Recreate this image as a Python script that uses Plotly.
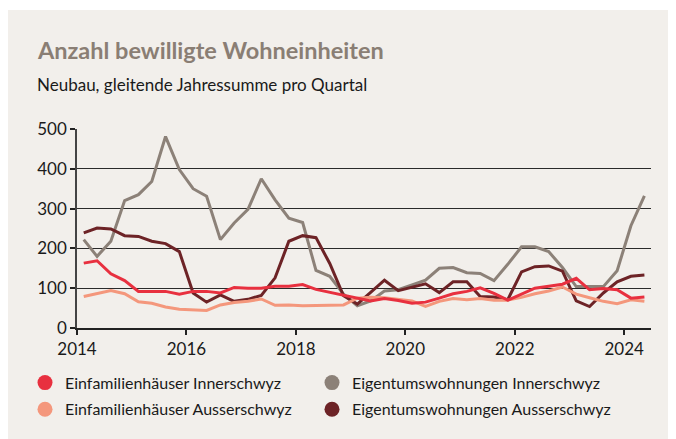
import plotly.graph_objects as go

# Quarterly data points (mid-quarter), 2014 Q1 .. 2024 Q2
quarters = [f"{y}-{m:02d}-15" for y in range(2014, 2025) for m in (2, 5, 8, 11)][:42]

efh_inner = [163, 169, 136, 119, 92, 92, 92, 85, 92, 92,
             88, 102, 100, 100, 105, 105, 109, 97, 90, 83,
             75, 68, 74, 69, 62, 65, 75, 86, 92, 101,
             87, 70, 85, 100, 105, 110, 125, 96, 99, 96,
             75, 78]
efh_ausser = [79, 86, 94, 86, 66, 62, 53, 47, 45, 44,
              58, 64, 67, 73, 57, 58, 56, 57, 57, 58,
              75, 77, 76, 72, 68, 54, 67, 74, 71, 74,
              70, 70, 77, 86, 93, 103, 85, 76, 67, 61,
              71, 67]
etw_inner = [222, 180, 218, 320, 335, 368, 481, 398, 350, 331,
             222, 264, 298, 375, 322, 276, 265, 145, 130, 85,
             56, 68, 93, 96, 108, 120, 150, 152, 139, 137,
             119, 160, 204, 204, 192, 152, 104, 104, 104, 144,
             257, 332]
etw_ausser = [239, 251, 249, 232, 230, 218, 212, 192, 88, 65,
              83, 67, 72, 82, 126, 218, 232, 227, 162, 81,
              60, 90, 120, 94, 103, 111, 89, 116, 116, 79,
              78, 71, 141, 154, 156, 143, 68, 54, 88, 116,
              130, 133]

names = ["Einfamilienhäuser Innerschwyz", "Eigentumswohnungen Innerschwyz",
         "Einfamilienhäuser Ausserschwyz", "Eigentumswohnungen Ausserschwyz"]
colors = {"Einfamilienhäuser Innerschwyz": "#e8303f",
          "Eigentumswohnungen Innerschwyz": "#8c8178",
          "Einfamilienhäuser Ausserschwyz": "#f4977c",
          "Eigentumswohnungen Ausserschwyz": "#6d2326"}
series = {"Einfamilienhäuser Innerschwyz": efh_inner,
          "Eigentumswohnungen Innerschwyz": etw_inner,
          "Einfamilienhäuser Ausserschwyz": efh_ausser,
          "Eigentumswohnungen Ausserschwyz": etw_ausser}
# legend grid: 2 columns x 2 rows
legend_ids = ["legend", "legend2", "legend3", "legend4"]

y_ticks = [0, 100, 200, 300, 400, 500]
x_ticks = ["2014-01-01", "2016-01-01", "2018-01-01", "2020-01-01", "2022-01-01", "2024-01-01"]
x_tick_labels = ["2014", "2016", "2018", "2020", "2022", "2024"]

FONT = "Lato"
BG = "#f2efeb"
W, H = 676, 439
L, R, T, B = 69, 33, 121, 119
pw, ph = W - L - R, H - T - B

def px(x):
    return (x - L) / pw

def py(y):
    return (H - B - y) / ph

fig = go.Figure()

draw_order = ["Eigentumswohnungen Innerschwyz", "Eigentumswohnungen Ausserschwyz",
              "Einfamilienhäuser Ausserschwyz", "Einfamilienhäuser Innerschwyz"]
for n in draw_order:
    fig.add_trace(go.Scatter(x=quarters, y=series[n], mode="lines", name=n,
                             line=dict(color=colors[n], width=3),
                             showlegend=False, hoverinfo="x+y+name"))

# legend entries with round markers
for n, lid in zip(names, legend_ids):
    fig.add_trace(go.Scatter(x=[None], y=[None], mode="markers", name=n,
                             marker=dict(color=colors[n], size=15, symbol="circle"),
                             showlegend=True, legend=lid))

fig.add_shape(type="rect", xref="paper", yref="paper",
              x0=px(-5), x1=px(W + 5), y0=py(2), y1=py(-5),
              fillcolor="white", line=dict(width=0), layer="below")

fig.add_annotation(text="<b>Anzahl bewilligte Wohneinheiten</b>", xref="paper", yref="paper",
                   x=px(27), y=py(42), xanchor="left", yanchor="middle", showarrow=False,
                   font=dict(family=FONT, size=23.5, color="#8a7e74"))
fig.add_annotation(text="Neubau, gleitende Jahressumme pro Quartal", xref="paper", yref="paper",
                   x=px(27), y=py(76), xanchor="left", yanchor="middle", showarrow=False,
                   font=dict(family=FONT, size=17, color="#1a1a1a"))

leg_common = dict(orientation="h", xanchor="left", yanchor="middle",
                  bgcolor="rgba(0,0,0,0)",
                  font=dict(family=FONT, size=16, color="#1a1a1a"),
                  itemsizing="trace", tracegroupgap=0)
col_x = [17, 304]
row_y = [374.7, 401.3]

fig.update_layout(
    width=W, height=H,
    margin=dict(l=L, r=R, t=T, b=B, autoexpand=False),
    paper_bgcolor=BG,
    plot_bgcolor="rgba(0,0,0,0)",
    font=dict(family=FONT, size=16, color="#1a1a1a"),
    xaxis=dict(type="date", range=["2014-01-01", "2024-06-28"],
               tickvals=x_ticks, ticktext=x_tick_labels,
               showgrid=False, zeroline=False, automargin=False,
               showline=True, linecolor="#222222", linewidth=1.5,
               ticks="outside", ticklen=5, tickcolor="#222222", tickwidth=1.5,
               tickfont=dict(family=FONT, size=17, color="#1a1a1a")),
    yaxis=dict(range=[0, 500], tickvals=y_ticks, automargin=False,
               showgrid=True, gridcolor="#2a2a2a", gridwidth=1,
               zeroline=False,
               showline=True, linecolor="#444444", linewidth=1.5,
               ticks="outside", ticklen=5, tickcolor="#222222", tickwidth=1.5,
               tickfont=dict(family=FONT, size=17, color="#1a1a1a")),
    legend=dict(x=px(col_x[0]), y=py(row_y[0]), **leg_common),
    legend2=dict(x=px(col_x[1]), y=py(row_y[0]), **leg_common),
    legend3=dict(x=px(col_x[0]), y=py(row_y[1]), **leg_common),
    legend4=dict(x=px(col_x[1]), y=py(row_y[1]), **leg_common),
    showlegend=True,
)

fig.write_html("out.html")
